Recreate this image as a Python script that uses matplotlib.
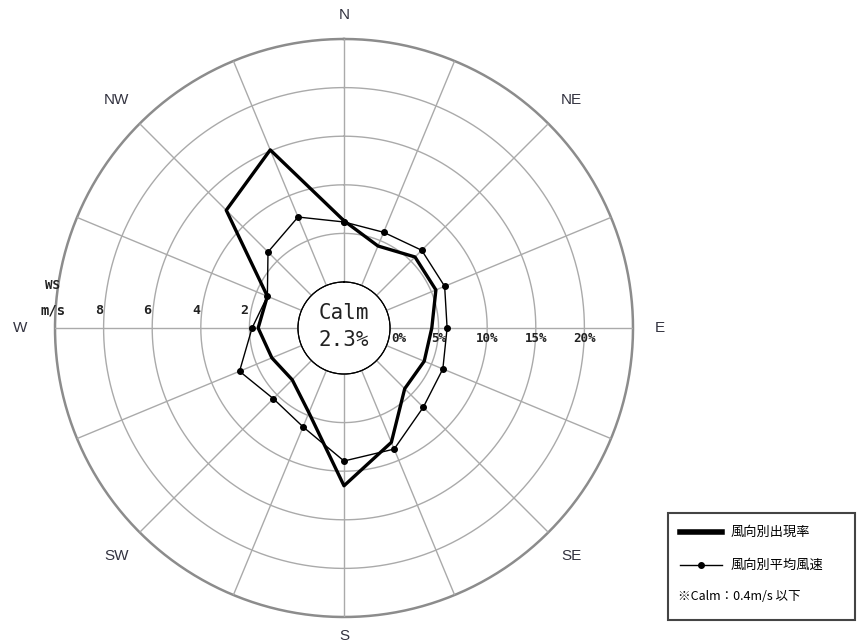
import numpy as np
import matplotlib.pyplot as plt
from matplotlib.patches import Rectangle
from matplotlib.lines import Line2D

plt.rcParams['font.family'] = ['Noto Sans CJK JP', 'DejaVu Sans']

# 16 directions, clockwise from north
directions = ['N', 'NNE', 'NE', 'ENE', 'E', 'ESE', 'SE', 'SSE',
              'S', 'SSW', 'SW', 'WSW', 'W', 'WNW', 'NW', 'NNW']
freq = [6.3, 4.4, 5.6, 5.5, 4.3, 4.2, 4.1, 8.0,
        11.5, 4.7, 2.8, 3.3, 4.1, 3.8, 12.4, 15.1]      # %
speed = [2.47, 2.37, 2.63, 2.59, 2.35, 2.51, 2.72, 3.50,
         3.58, 2.51, 2.22, 2.76, 1.89, 1.52, 2.53, 3.05]  # m/s
calm = 2.3

compass = ['N', 'NE', 'E', 'SE', 'S', 'SW', 'W', 'NW']
compass_r = [27.5, 28.4, 27.8, 28.4, 27.0, 28.4, 28.6, 28.4]
pct_ticks = [0, 5, 10, 15, 20]
ws_ticks = [2, 4, 6, 8]

fmax, smax = 25, 10
hole = 46 / 243  # calm circle radius relative to ring band

fig = plt.figure(figsize=(8.57, 6.44), dpi=100)
rect = [55 / 857, 27 / 644, 578 / 857, 578 / 644]
ax = fig.add_axes(rect, projection='polar')
ax2 = fig.add_axes(rect, projection='polar')

for a, top in ((ax, fmax), (ax2, smax)):
    a.set_theta_zero_location('N')
    a.set_theta_direction(-1)
    a.set_ylim(0, top)
    a.set_rorigin(-top * hole)
    a.grid(False)
    a.set_xticks([])
    a.set_yticks([])
    for s in a.spines.values():
        s.set_visible(False)
ax2.patch.set_alpha(0)

theta = np.deg2rad(np.arange(16) * 22.5)
circ = np.linspace(0, 2 * np.pi, 400)

# grid: rings and spokes
for r in [0, 5, 10, 15, 20]:
    ax.plot(circ, np.full_like(circ, r), color='#aaaaaa', lw=1.0, zorder=1)
ax.plot(circ, np.full_like(circ, fmax), color='#8c8c8c', lw=1.8, zorder=1, clip_on=False)
for t in theta:
    ax.plot([t, t], [0, fmax], color='#aaaaaa', lw=1.0, zorder=1)

# compass labels
for i, name in enumerate(compass):
    ax.text(np.deg2rad(i * 45), compass_r[i], name, ha='center', va='center',
            fontsize=11, color='#333340', family='Liberation Sans')

small = dict(ha='center', va='center', fontweight='bold', family='DejaVu Sans Mono',
             color='#222222', textcoords='offset pixels', annotation_clip=False)

# percent scale along E axis
for p in pct_ticks:
    rr = 0.85 if p == 0 else p
    ax.annotate(f'{p}%', (np.pi / 2, rr), xytext=(0, -10), fontsize=9, **small)

# wind speed scale along W axis
for w in ws_ticks:
    ax2.annotate(str(w), (1.5 * np.pi, w + 0.2), xytext=(0, 18), fontsize=9.5, **small)
ax2.annotate('m/s', (1.5 * np.pi, smax + 0.1), xytext=(0, 18), fontsize=10, **small)
ax2.annotate('WS', (1.5 * np.pi, smax + 0.1), xytext=(0, 43), fontsize=9, **small)

# data polygons
tc = np.append(theta, theta[0])
ax2.plot(tc, np.append(speed, speed[0]), color='black', lw=1.0,
         marker='o', markersize=4, zorder=3)
ax.plot(tc, np.append(freq, freq[0]), color='black', lw=2.4, zorder=4)

# calm in the centre
fig.text(344 / 857, 1 - 313 / 644, 'Calm', ha='center', va='center',
         fontsize=15, family='DejaVu Sans Mono', color='#222222')
fig.text(344 / 857, 1 - 340 / 644, f'{calm}%', ha='center', va='center',
         fontsize=15, family='DejaVu Sans Mono', color='#222222')

# legend box
W, H = 857, 644
fig.patches.append(Rectangle((668 / W, 1 - 620 / H), 187 / W, 107 / H,
                             transform=fig.transFigure, fill=False,
                             edgecolor='#444444', lw=1.5))
fig.lines.append(Line2D([680 / W, 722 / W], [1 - 532 / H] * 2, transform=fig.transFigure,
                        color='black', lw=4))
fig.lines.append(Line2D([680 / W, 722 / W], [1 - 565 / H] * 2, transform=fig.transFigure,
                        color='black', lw=1.0))
fig.lines.append(Line2D([701 / W], [1 - 565 / H], transform=fig.transFigure,
                        color='black', marker='o', markersize=4))
fig.text(731 / W, 1 - 532 / H, '風向別出現率', ha='left', va='center', fontsize=9.5)
fig.text(731 / W, 1 - 565 / H, '風向別平均風速', ha='left', va='center', fontsize=9.5)
fig.text(678 / W, 1 - 596 / H, '※Calm：0.4m/s 以下', ha='left', va='center', fontsize=9)

fig.savefig('out.png', dpi=100)
